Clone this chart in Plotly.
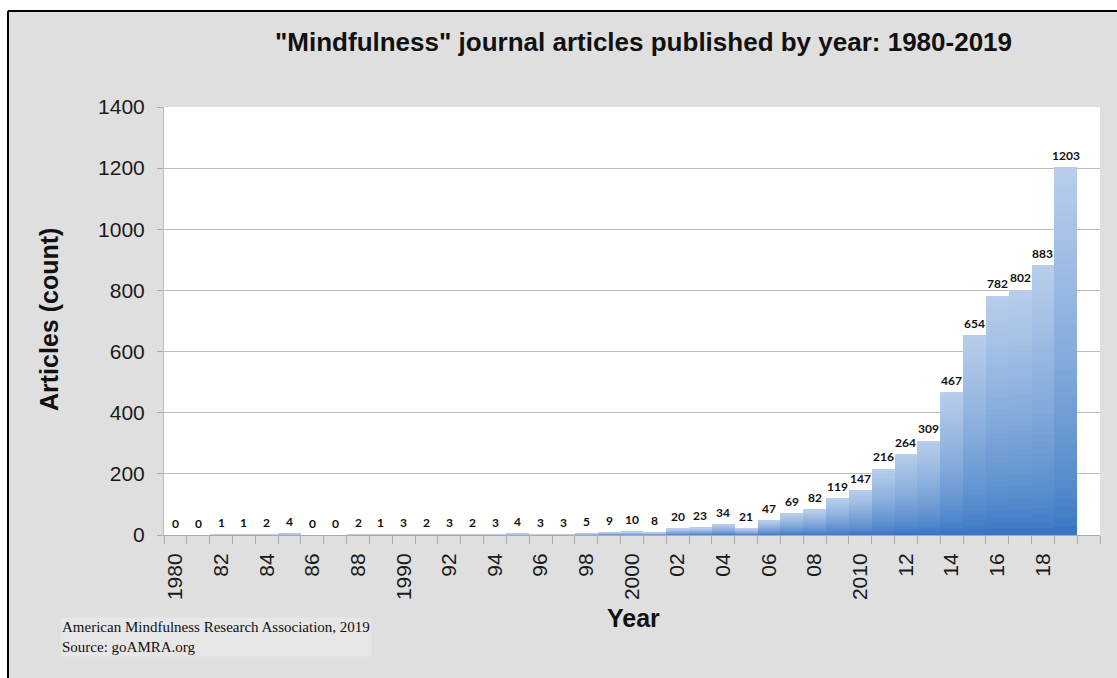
import plotly.graph_objects as go

years = list(range(1980, 2020))
articles = [0, 0, 1, 1, 2, 4, 0, 0, 2, 1,
            3, 2, 3, 2, 3, 4, 3, 3, 5, 9,
            10, 8, 20, 23, 34, 21, 47, 69, 82, 119,
            147, 216, 264, 309, 467, 654, 782, 802, 883, 1203]
tick_years = list(range(1980, 2019, 2))
tick_text = ["1980", "82", "84", "86", "88", "1990", "92", "94", "96", "98",
             "2000", "02", "04", "06", "08", "2010", "12", "14", "16", "18"]

title_text = '"Mindfulness" journal articles published by year: 1980-2019'
y_title = "Articles (count)"
x_title = "Year"
footnote = ["American Mindfulness Research Association, 2019", "Source: goAMRA.org"]

W, H = 1117, 678
ML, MR, MT, MB = 164, 17, 107, 143
PW, PH = W - ML - MR, H - MT - MB


def px(x):
    return (x - ML) / PW


def py(y):
    return (H - MB - y) / PH


def mix(c1, c2, t):
    a = [int(c1[i:i + 2], 16) for i in (1, 3, 5)]
    b = [int(c2[i:i + 2], 16) for i in (1, 3, 5)]
    return "rgb(%d,%d,%d)" % tuple(round(a[k] + (b[k] - a[k]) * t) for k in range(3))


dark, light = "#3676c3", "#b7cdeb"
N = 40
fig = go.Figure()
for i in range(N):
    t = (i / (N - 1)) ** 0.7
    fig.add_trace(go.Bar(
        x=years, y=[v / N for v in articles],
        marker=dict(color=mix(dark, light, t), line=dict(width=0)),
        showlegend=False, hoverinfo="skip"))

for yr, v in zip(years, articles):
    fig.add_annotation(x=yr, y=v, text="<b>%d</b>" % v, showarrow=False,
                       yshift=12, font=dict(family="Lato", size=12, color="#111111"))

fig.add_annotation(xref="paper", yref="paper", x=px(643), y=py(42), text="<b>%s</b>" % title_text,
                   showarrow=False, xanchor="center", yanchor="middle",
                   font=dict(family="Liberation Sans", size=26, color="#111111"))
fig.add_annotation(xref="paper", yref="paper", x=px(49), y=py(320), text="<b>%s</b>" % y_title,
                   showarrow=False, textangle=-90, xanchor="center", yanchor="middle",
                   font=dict(family="Liberation Sans", size=25, color="#111111"))
fig.add_annotation(xref="paper", yref="paper", x=px(633), y=py(618), text="<b>%s</b>" % x_title,
                   showarrow=False, xanchor="center", yanchor="middle",
                   font=dict(family="Liberation Sans", size=25, color="#111111"))
fig.add_annotation(xref="paper", yref="paper", x=px(60), y=py(637), text="<br>".join(footnote),
                   showarrow=False, xanchor="left", yanchor="middle", align="left",
                   bgcolor="#e6e6e6",
                   font=dict(family="Liberation Serif", size=15, color="#111111"))

fig.add_shape(type="rect", xref="paper", yref="paper", x0=px(-5), x1=px(1130), y0=py(11), y1=py(-5),
              fillcolor="white", line=dict(width=0))
fig.add_shape(type="rect", xref="paper", yref="paper", x0=px(-5), x1=px(8), y0=py(690), y1=py(-5),
              fillcolor="white", line=dict(width=0))
fig.add_shape(type="line", xref="paper", yref="paper", x0=px(8), x1=px(1130), y0=py(11), y1=py(11),
              line=dict(color="black", width=2))
fig.add_shape(type="line", xref="paper", yref="paper", x0=px(8), x1=px(8), y0=py(11), y1=py(690),
              line=dict(color="black", width=2))

fig.update_layout(
    width=W, height=H,
    margin=dict(l=ML, r=MR, t=MT, b=MB, pad=0),
    paper_bgcolor="#dfdfdf", plot_bgcolor="white",
    barmode="stack", bargap=0,
    xaxis=dict(range=[1979.5, 2020.5], tickmode="array", tickvals=tick_years, ticktext=tick_text,
               tickangle=-90, ticks="outside", ticklen=9, tickcolor="rgba(0,0,0,0)",
               tickfont=dict(family="Liberation Sans", size=21, color="#1a1a1a"),
               showline=True, linecolor="#aaaaaa", linewidth=1, showgrid=False, zeroline=False,
               minor=dict(tick0=1979.5, dtick=1, ticks="outside", ticklen=8, tickcolor="#aaaaaa",
                          showgrid=False)),
    yaxis=dict(range=[0, 1400], dtick=200, ticks="outside", ticklen=6, tickcolor="#aaaaaa",
               tickfont=dict(family="Liberation Sans", size=21, color="#1a1a1a"),
               showline=True, linecolor="#bbbbbb", linewidth=1,
               gridcolor="#bdbdbd", gridwidth=1, zeroline=False, ticklabelstandoff=8),
)

fig.write_html("out.html")
